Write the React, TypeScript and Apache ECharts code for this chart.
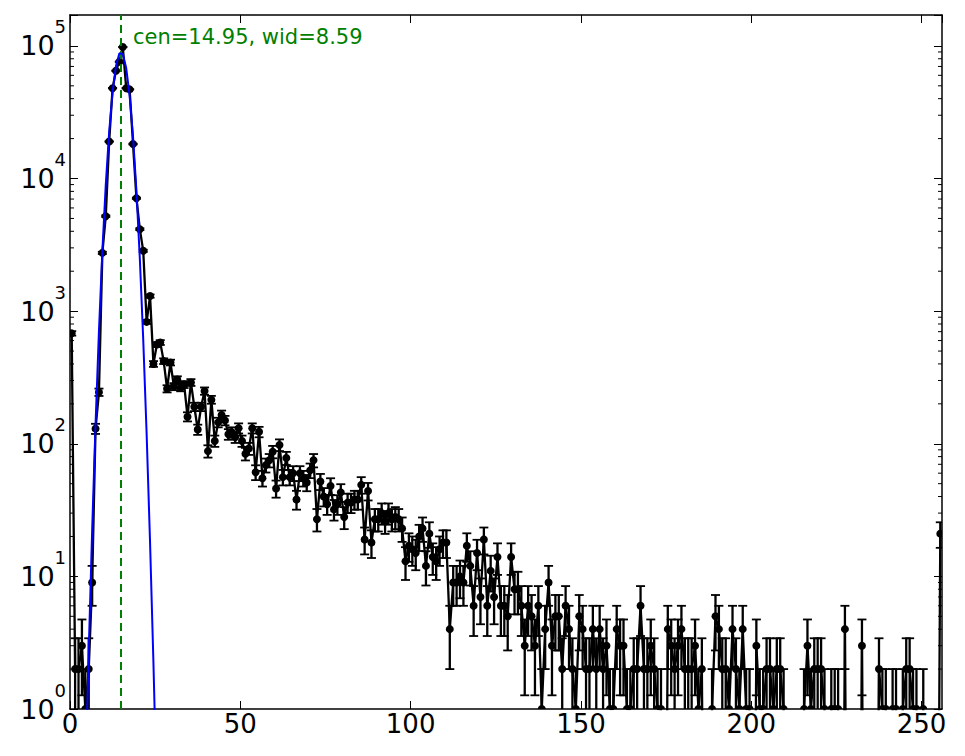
import React, { useEffect, useRef } from "react";
import * as echarts from "echarts";

// Histogram counts, one per unit-wide bin starting at 0 (bin centres at i + 0.5)
const COUNTS: number[] = [
  680, 2, 2, 3, 1, 2, 9, 130, 245, 2750,
  5200, 19000, 48000, 65000, 76000, 98000, 48000, 47000, 18200, 7100,
  4150, 2850, 830, 1300, 400, 560, 580, 420, 260, 410,
  270, 305, 265, 280, 160, 290, 190, 128, 190, 250,
  88, 215, 105, 145, 165, 150, 118, 122, 112, 131,
  105, 84, 92, 131, 61, 123, 55, 69, 75, 87,
  46, 98, 56, 78, 56, 60, 38, 60, 55, 51,
  63, 75, 27, 52, 40, 35, 48, 32, 35, 43,
  28, 36, 36, 38, 38, 49, 19, 44, 18, 27,
  27, 30, 26, 30, 27, 28, 27, 23, 13, 17,
  16, 15, 20, 23, 12, 21, 14, 13, 16, 18,
  18, 4, 9, 9, 10, 9, 17, 12, 6, 15,
  7, 19, 6, 11, 7, 14, 6, 6, 5, 14,
  8, 8, 6, 3, 6, 5, 3, 6, 1, 4,
  9, 3, 5, 5, 2, 6, 4, 2, 1, 5,
  4, 2, 2, 4, 2, 4, 2, 3, 1, 1,
  4, 3, 3, 1, 1, 2, 2, 6, 2, 2,
  3, 2, 1, 1, 0, 4, 3, 2, 3, 4,
  2, 2, 2, 3, 1, 2, 0, 0, 1, 5,
  4, 2, 2, 1, 4, 2, 1, 4, 1, 1,
  0, 3, 1, 1, 2, 2, 1, 2, 2, 1,
  0, 0, 0, 0, 0, 1, 3, 1, 2, 2,
  2, 1, 0, 1, 1, 1, 0, 4, 0, 0,
  0, 0, 3, 0, 0, 0, 0, 2, 1, 1,
  0, 1, 1, 0, 1, 2, 2, 1, 1, 0,
  1, 0, 0, 0, 0, 21,
];

// Fitted Gaussian curve, read at bin centres
const FIT_X: number[] = [
  4.5, 5.5, 6.5, 7.5, 8.5, 9.5, 10.5, 11.5, 12.5, 13.5, 14.5,
  15.5, 16.5, 17.5, 18.5, 19.5, 20.5, 21.5, 22.5, 23.5, 24.5, 25.5,
];
const FIT_Y: number[] = [
  0.27, 2.75, 22.1, 141, 709, 2835, 8975, 22500, 44750, 70450, 87900,
  86900, 68050, 42200, 20750, 8080, 2494, 610, 118, 18.1, 2.2, 0.21,
];
const FIT_CEN = 14.95;
const FIT_WID = 8.59;

const X_TICKS: number[] = [0, 50, 100, 150, 200, 250];
const Y_MAJOR_EXPONENTS: number[] = [0, 1, 2, 3, 4, 5];
const Y_MINOR_TICKS: number[] = [
  2, 3, 4, 5, 6, 7, 8, 9,
  20, 30, 40, 50, 60, 70, 80, 90,
  200, 300, 400, 500, 600, 700, 800, 900,
  2000, 3000, 4000, 5000, 6000, 7000, 8000, 9000,
  20000, 30000, 40000, 50000, 60000, 70000, 80000, 90000,
];

const X_MIN = 0;
const X_MAX = 256;
const Y_MIN = 1;
const Y_MAX = 171000;
const ZERO_FLOOR = 0.001; // empty bins are drawn below the axis, as the log plot clips them

const FONT = "DejaVu Sans";

export default function App() {
  const ref = useRef<HTMLDivElement>(null);

  useEffect(() => {
    if (!ref.current) return;
    const chart = echarts.init(ref.current, null, { renderer: "svg" });

    const linePts = COUNTS.map((c, i) => [i + 0.5, c > 0 ? c : ZERO_FLOOR]);
    const nonZero = COUNTS.map((c, i) => [i + 0.5, c]).filter((d) => d[1] > 0);
    const fitPts = FIT_X.map((x, i) => [x, FIT_Y[i]]);
    const minorPts = Y_MINOR_TICKS.map((v) => [X_MIN, v]);

    const axisLine = { show: true, onZero: false, lineStyle: { color: "#000", width: 1.5 } };
    const majorTick = { show: true, inside: true, length: 8, lineStyle: { color: "#000", width: 1 } };

    const yFormatter = (v: number) => {
      const e = Math.log10(v);
      const r = Math.round(e);
      if (Math.abs(e - r) > 1e-6 || !Y_MAJOR_EXPONENTS.includes(r)) return "";
      return `{b|10}{s|${r}}`;
    };

    const option: any = {
      animation: false,
      backgroundColor: "#fff",
      grid: { left: 70, right: 23, top: 15, bottom: 47, containLabel: false },
      xAxis: [
        {
          type: "value",
          min: X_MIN,
          max: X_MAX,
          interval: 50,
          position: "bottom",
          axisLine,
          axisTick: majorTick,
          splitLine: { show: false },
          axisLabel: {
            show: true,
            margin: 2,
            color: "#000",
            fontSize: 26,
            fontFamily: FONT,
            showMaxLabel: false,
            formatter: (v: number) => (X_TICKS.includes(v) ? String(v) : ""),
          },
        },
        {
          type: "value",
          min: X_MIN,
          max: X_MAX,
          interval: 50,
          position: "top",
          axisLine,
          axisTick: majorTick,
          splitLine: { show: false },
          axisLabel: { show: false },
        },
      ],
      yAxis: [
        {
          type: "log",
          logBase: 10,
          min: Y_MIN,
          max: Y_MAX,
          position: "left",
          axisLine,
          axisTick: majorTick,
          splitLine: { show: false },
          axisLabel: {
            show: true,
            margin: 4,
            color: "#000",
            fontFamily: FONT,
            formatter: yFormatter,
            rich: {
              b: { fontSize: 27, fontFamily: FONT, color: "#000", lineHeight: 56 },
              s: { fontSize: 18, fontFamily: FONT, color: "#000", lineHeight: 20, verticalAlign: "top" },
            },
          },
        },
        {
          type: "log",
          logBase: 10,
          min: Y_MIN,
          max: Y_MAX,
          position: "right",
          axisLine,
          axisTick: majorTick,
          splitLine: { show: false },
          axisLabel: { show: false },
        },
      ],
      series: [
        {
          name: "minor ticks",
          type: "custom",
          z: 1,
          silent: true,
          clip: false,
          data: minorPts,
          renderItem: (_p: any, api: any) => {
            const v = api.value(1);
            const l = api.coord([X_MIN, v]);
            const r = api.coord([X_MAX, v]);
            const st = { stroke: "#000", lineWidth: 1 };
            return {
              type: "group",
              children: [
                { type: "line", shape: { x1: l[0], y1: l[1], x2: l[0] + 4, y2: l[1] }, style: st },
                { type: "line", shape: { x1: r[0] - 4, y1: r[1], x2: r[0], y2: r[1] }, style: st },
              ],
            };
          },
        },
        {
          name: "counts line",
          type: "line",
          z: 2,
          silent: true,
          clip: true,
          symbol: "none",
          data: linePts,
          lineStyle: { color: "#000", width: 2.3 },
        },
        {
          name: "error bars",
          type: "custom",
          z: 3,
          silent: true,
          clip: true,
          data: nonZero,
          renderItem: (_p: any, api: any) => {
            const x = api.value(0);
            const v = api.value(1);
            const e = Math.sqrt(v);
            const hi = v + e;
            const lo = v - e > 0 ? v - e : ZERO_FLOOR;
            const pHi = api.coord([x, hi]);
            const pLo = api.coord([x, lo]);
            const cw = 4.5;
            const bar = { stroke: "#000", lineWidth: 2.3 };
            const cap = { stroke: "#000", lineWidth: 1.8 };
            return {
              type: "group",
              children: [
                { type: "line", shape: { x1: pHi[0], y1: pHi[1], x2: pHi[0], y2: pLo[1] }, style: bar },
                { type: "line", shape: { x1: pHi[0] - cw, y1: pHi[1], x2: pHi[0] + cw, y2: pHi[1] }, style: cap },
                { type: "line", shape: { x1: pLo[0] - cw, y1: pLo[1], x2: pLo[0] + cw, y2: pLo[1] }, style: cap },
              ],
            };
          },
        },
        {
          name: "markers",
          type: "custom",
          z: 4,
          silent: true,
          clip: true,
          data: nonZero,
          renderItem: (_p: any, api: any) => {
            const p = api.coord([api.value(0), api.value(1)]);
            return { type: "circle", shape: { cx: p[0], cy: p[1], r: 4 }, style: { fill: "#000" } };
          },
        },
        {
          name: "fit",
          type: "line",
          z: 5,
          silent: true,
          clip: true,
          symbol: "none",
          data: fitPts,
          lineStyle: { color: "#0000ff", width: 2 },
          markLine: {
            silent: true,
            symbol: ["none", "none"],
            label: { show: false },
            lineStyle: { color: "#008000", type: [8, 5], width: 2 },
            data: [{ xAxis: FIT_CEN }],
          },
        },
      ],
      graphic: [
        {
          type: "text",
          x: 133,
          y: 37,
          z: 10,
          style: {
            text: `cen=${FIT_CEN.toFixed(2)}, wid=${FIT_WID.toFixed(2)}`,
            fill: "#008000",
            fontSize: 21,
            fontFamily: FONT,
            verticalAlign: "middle",
          },
        },
      ],
    };

    chart.setOption(option);
    return () => chart.dispose();
  }, []);

  return (
    <div
      ref={ref}
      style={{ position: "fixed", left: 0, top: 0, width: 965, height: 756, background: "#fff" }}
    />
  );
}
